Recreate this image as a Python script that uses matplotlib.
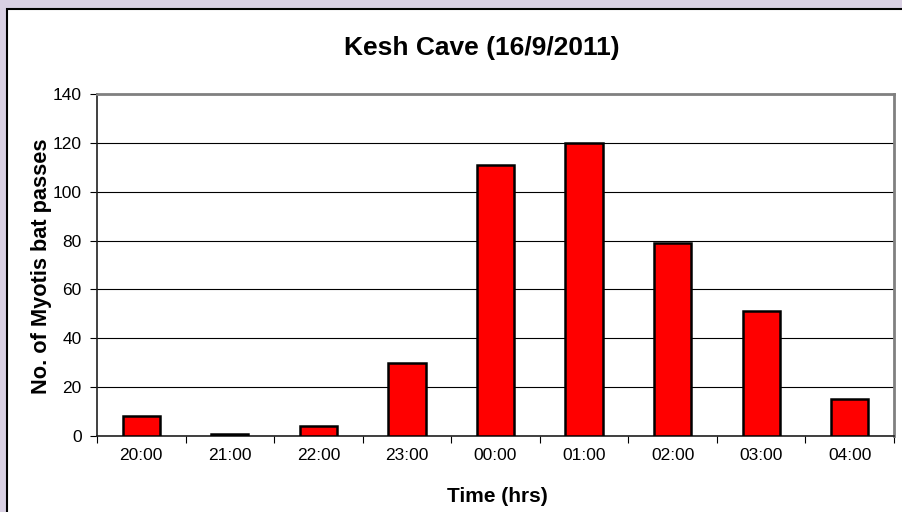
import numpy as np
import matplotlib
matplotlib.use("Agg")
import matplotlib.pyplot as plt
from matplotlib.patches import Rectangle

categories = ["20:00", "21:00", "22:00", "23:00", "00:00", "01:00", "02:00", "03:00", "04:00"]
passes = [8, 1, 4, 30, 111, 120, 79, 51, 15]
yticks = [0, 20, 40, 60, 80, 100, 120, 140]

plt.rcParams['font.family'] = ['Liberation Sans', 'DejaVu Sans']

W, H = 902, 512
fig = plt.figure(figsize=(W / 100, H / 100), dpi=100)
fig.patch.set_facecolor('#D9D0E3')

# white chart area with black border (extends past right/bottom edges)
fig.patches.append(Rectangle((7 / W, -0.05), 1.0, 1 - 9 / H + 0.05,
                             transform=fig.transFigure, facecolor='white',
                             edgecolor='black', linewidth=1.5, zorder=-5))

ax = fig.add_axes([97 / W, 1 - 436 / H, (894 - 97) / W, (436 - 94) / H])
ax.set_zorder(2)
ax.set_facecolor('white')
x = np.arange(len(categories))
ax.bar(x, passes, width=0.42, color='#FF0000', edgecolor='black', linewidth=1.8, zorder=3)

ax.set_xlim(-0.5, len(categories) - 0.5)
ax.set_ylim(0, 140)
ax.set_yticks(yticks)
ax.set_yticklabels([str(v) for v in yticks], fontsize=12.5)
ax.yaxis.grid(True, color='black', linewidth=0.8, zorder=0)
ax.set_axisbelow(True)

ax.set_xticks(np.arange(-0.5, len(categories), 1))
ax.set_xticklabels([''] * (len(categories) + 1))
ax.set_xticks(x, minor=True)
ax.set_xticklabels(categories, minor=True, fontsize=12.5)
ax.tick_params(axis='x', which='major', length=5, direction='out', color='black')
ax.tick_params(axis='x', which='minor', length=0, pad=9)
ax.tick_params(axis='y', length=5, direction='out', color='black', pad=6)

for s in ['top', 'right']:
    ax.spines[s].set_color('#808080')
    ax.spines[s].set_linewidth(2)
for s in ['left', 'bottom']:
    ax.spines[s].set_color('#202020')
    ax.spines[s].set_linewidth(1.2)

fig.text(482 / W, 1 - 48 / H, "Kesh Cave (16/9/2011)", fontsize=19, fontweight='bold',
         ha='center', va='center')
fig.text(497 / W, 1 - 497 / H, "Time (hrs)", fontsize=15, fontweight='bold',
         ha='center', va='center')
fig.text(42 / W, 1 - 266 / H, "No. of Myotis bat passes", fontsize=15.7, fontweight='bold',
         ha='center', va='center', rotation=90)

fig.savefig("out.png", dpi=100, facecolor=fig.get_facecolor())
